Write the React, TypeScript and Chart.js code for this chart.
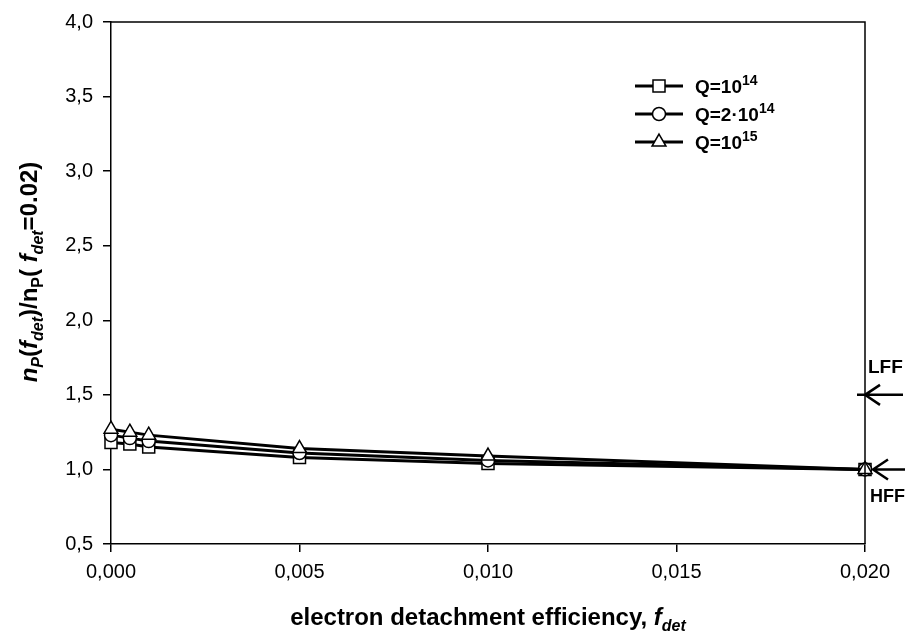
import React, { useEffect, useRef } from "react";
import { Chart, registerables } from "chart.js";

Chart.register(...registerables);

const fDet = [0, 0.0005, 0.001, 0.005, 0.01, 0.02];
const q1e14 = [1.18, 1.17, 1.15, 1.08, 1.04, 1.0];
const q2e14 = [1.23, 1.21, 1.19, 1.11, 1.06, 1.0];
const q1e15 = [1.27, 1.25, 1.23, 1.14, 1.09, 1.0];

const seriesNames = [
  { base: "Q=10", sup: "14" },
  { base: "Q=2\u00b710", sup: "14" },
  { base: "Q=10", sup: "15" },
];
const pointStyles = ["rect", "circle", "triangle"] as const;
const pointRadii = [8.5, 6.5, 8];

const FONT = "'Liberation Sans', Arial, Helvetica, sans-serif";

type Seg = { t: string; size: number; bold?: boolean; italic?: boolean; dy?: number };

function fontOf(s: Seg) {
  return `${s.italic ? "italic " : ""}${s.bold ? "bold " : ""}${s.size}px ${FONT}`;
}

function drawRich(ctx: CanvasRenderingContext2D, segs: Seg[], x: number, y: number, align: "left" | "center") {
  let total = 0;
  const widths = segs.map((s) => {
    ctx.font = fontOf(s);
    const w = ctx.measureText(s.t).width;
    total += w;
    return w;
  });
  let cx = align === "center" ? x - total / 2 : x;
  ctx.textAlign = "left";
  ctx.textBaseline = "alphabetic";
  segs.forEach((s, i) => {
    ctx.font = fontOf(s);
    ctx.fillText(s.t, cx, y + (s.dy || 0));
    cx += widths[i];
  });
}

function drawMarker(ctx: CanvasRenderingContext2D, style: string, x: number, y: number, r: number) {
  ctx.save();
  ctx.fillStyle = "#fff";
  ctx.strokeStyle = "#000";
  ctx.lineWidth = 1.5;
  ctx.beginPath();
  if (style === "rect") {
    const s = r * Math.SQRT1_2;
    ctx.rect(x - s, y - s, 2 * s, 2 * s);
  } else if (style === "circle") {
    ctx.arc(x, y, r, 0, Math.PI * 2);
  } else {
    const a = (Math.PI * 2) / 3;
    ctx.moveTo(x, y - r);
    ctx.lineTo(x + Math.sin(a) * r, y - Math.cos(a) * r);
    ctx.lineTo(x - Math.sin(a) * r, y - Math.cos(a) * r);
    ctx.closePath();
  }
  ctx.fill();
  ctx.stroke();
  ctx.restore();
}

const decorPlugin = {
  id: "decor",
  afterDraw(chart: any) {
    const ctx: CanvasRenderingContext2D = chart.ctx;
    const { left, right, top, bottom } = chart.chartArea;
    const yS = chart.scales.y;
    ctx.save();
    // frame top and right
    ctx.strokeStyle = "#000";
    ctx.lineWidth = 1.5;
    ctx.beginPath();
    ctx.moveTo(left, top);
    ctx.lineTo(right, top);
    ctx.lineTo(right, bottom);
    ctx.stroke();

    ctx.fillStyle = "#000";
    // legend
    const rows = [86, 114, 142];
    rows.forEach((ry, i) => {
      ctx.strokeStyle = "#000";
      ctx.lineWidth = 3;
      ctx.beginPath();
      ctx.moveTo(635, ry);
      ctx.lineTo(683, ry);
      ctx.stroke();
      drawMarker(ctx, pointStyles[i], 659, ry, [8.5, 6.5, 8][i]);
      ctx.fillStyle = "#000";
      drawRich(
        ctx,
        [
          { t: seriesNames[i].base, size: 19, bold: true },
          { t: seriesNames[i].sup, size: 14, bold: true, dy: -8 },
        ],
        695,
        ry + 7,
        "left"
      );
    });

    // arrows
    const drawArrow = (tipX: number, tailStart: number, endX: number, yy: number) => {
      ctx.strokeStyle = "#000";
      ctx.lineWidth = 2.5;
      ctx.beginPath();
      ctx.moveTo(tailStart, yy);
      ctx.lineTo(endX, yy);
      ctx.moveTo(tipX + 15, yy - 10);
      ctx.lineTo(tipX, yy);
      ctx.lineTo(tipX + 15, yy + 10);
      ctx.stroke();
    };
    const yL = yS.getPixelForValue(1.5);
    const yH = yS.getPixelForValue(1.0);
    drawArrow(right, right - 8, right + 38, yL);
    drawArrow(right + 8, right + 8, right + 40, yH);
    ctx.fillStyle = "#000";
    drawRich(ctx, [{ t: "LFF", size: 19, bold: true }], right + 3, yL - 22, "left");
    drawRich(ctx, [{ t: "HFF", size: 18, bold: true }], right + 5, yH + 33, "left");

    // x axis title
    drawRich(
      ctx,
      [
        { t: "electron detachment efficiency, ", size: 24, bold: true },
        { t: "f", size: 24, bold: true, italic: true },
        { t: "det", size: 16, bold: true, italic: true, dy: 6 },
      ],
      (left + right) / 2,
      625,
      "center"
    );

    // y axis title
    ctx.save();
    ctx.translate(37, 272);
    ctx.rotate(-Math.PI / 2);
    drawRich(
      ctx,
      [
        { t: "n", size: 24, bold: true, italic: true },
        { t: "P", size: 16, bold: true, italic: true, dy: 6 },
        { t: "(", size: 24, bold: true },
        { t: "f", size: 24, bold: true, italic: true },
        { t: "det", size: 16, bold: true, italic: true, dy: 6 },
        { t: ")/n", size: 24, bold: true },
        { t: "P", size: 16, bold: true, dy: 6 },
        { t: "(", size: 24, bold: true },
        { t: " f", size: 24, bold: true, italic: true },
        { t: "det", size: 16, bold: true, italic: true, dy: 6 },
        { t: "=0.02)", size: 24, bold: true },
      ],
      0,
      0,
      "center"
    );
    ctx.restore();
    ctx.restore();
  },
};

export default function App() {
  const ref = useRef<HTMLCanvasElement | null>(null);
  useEffect(() => {
    if (!ref.current) return;
    const mk = (vals: number[]) => fDet.map((x, i) => ({ x, y: vals[i] }));
    const allSeries = [q1e14, q2e14, q1e15];
    const chart = new Chart(ref.current, {
      type: "line",
      data: {
        datasets: allSeries.map((vals, i) => ({
          label: seriesNames[i].base + seriesNames[i].sup,
          data: mk(vals),
          borderColor: "#000",
          borderWidth: 3,
          backgroundColor: "#fff",
          pointStyle: pointStyles[i],
          pointRadius: pointRadii[i],
          pointBackgroundColor: "#fff",
          pointBorderColor: "#000",
          pointBorderWidth: 1.5,
          tension: 0,
          clip: false,
          order: 3 - i,
        })),
      },
      options: {
        animation: false,
        responsive: false,
        devicePixelRatio: 1,
        layout: { padding: { top: 16, right: 44, left: 0, bottom: 0 } },
        plugins: {
          legend: { display: false },
          tooltip: { enabled: false },
          title: { display: false },
        },
        scales: {
          x: {
            type: "linear",
            min: 0,
            max: 0.02,
            afterFit: (s: any) => {
              s.height = 94;
            },
            ticks: {
              stepSize: 0.005,
              color: "#000",
              padding: 8,
              maxRotation: 0,
              font: { family: FONT, size: 20 },
              callback: (v: any) => Number(v).toFixed(3).replace(".", ","),
            },
            grid: {
              display: true,
              drawOnChartArea: false,
              drawTicks: true,
              tickLength: 8,
              color: "#000",
              lineWidth: 1.5,
            },
            border: { display: true, color: "#000", width: 1.5 },
          },
          y: {
            type: "linear",
            min: 0.5,
            max: 4,
            afterFit: (s: any) => {
              s.width = 111;
            },
            ticks: {
              stepSize: 0.5,
              color: "#000",
              padding: 10,
              font: { family: FONT, size: 20 },
              callback: (v: any) => Number(v).toFixed(1).replace(".", ","),
            },
            grid: {
              display: true,
              drawOnChartArea: false,
              drawTicks: true,
              tickLength: 8,
              color: "#000",
              lineWidth: 1.5,
            },
            border: { display: true, color: "#000", width: 1.5 },
          },
        },
      },
      plugins: [decorPlugin],
    });
    return () => chart.destroy();
  }, []);
  return (
    <div style={{ position: "fixed", left: 0, top: 0, width: 909, height: 638, background: "#fff" }}>
      <canvas ref={ref} width={909} height={638} style={{ display: "block", width: 909, height: 638 }} />
    </div>
  );
}
